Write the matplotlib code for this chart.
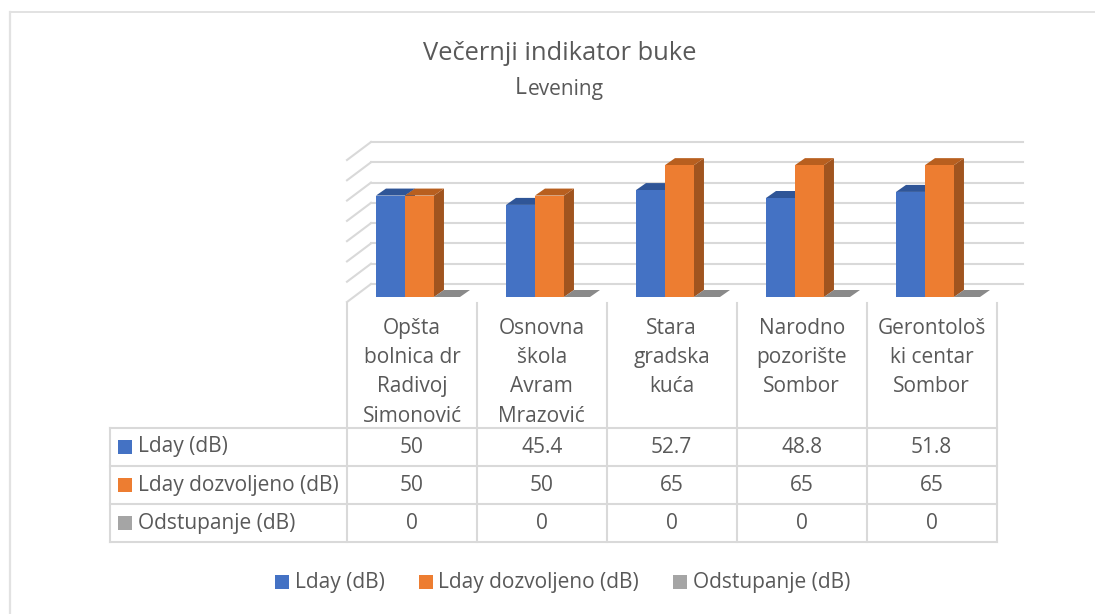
import matplotlib
matplotlib.use("Agg")
import matplotlib.pyplot as plt
from matplotlib.lines import Line2D
from matplotlib.patches import Polygon, Rectangle

plt.rcParams['font.family'] = ['Open Sans', 'DejaVu Sans']

W, H = 1095, 614
TEXTO = "#595959"
LINEA = "#D9D9D9"

categorias = ["Opšta\nbolnica dr\nRadivoj\nSimonović", "Osnovna\nškola\nAvram\nMrazović",
              "Stara\ngradska\nkuća", "Narodno\npozorište\nSombor", "Gerontološ\nki centar\nSombor"]
series = ["Lday (dB)", "Lday dozvoljeno (dB)", "Odstupanje (dB)"]
lday = [50, 45.4, 52.7, 48.8, 51.8]
dozvoljeno = [50, 50, 65, 65, 65]
odstupanje = [0, 0, 0, 0, 0]
etiquetas = [["50", "45.4", "52.7", "48.8", "51.8"],
             ["50", "50", "65", "65", "65"],
             ["0", "0", "0", "0", "0"]]
colores = ["#4472C4", "#ED7D31", "#A5A5A5"]
lados = ["#2F528F", "#A0541F", "#7F7F7F"]
oscuros = ["#2F5597", "#B85F1F", "#8A8A8A"]
gris_y = [0, 10, 20, 30, 40, 50, 60, 70]

fig = plt.figure(figsize=(W / 100, H / 100), dpi=100)

# pixeles de la imagen -> coordenadas de figura
def px(x, y):
    return x / W, 1 - y / H

def linea(x0, y0, x1, y1, color=LINEA, lw=1.5):
    a, b = px(x0, y0), px(x1, y1)
    fig.add_artist(Line2D([a[0], b[0]], [a[1], b[1]], color=color, lw=lw))

def texto(x, y, s, size=13, ha="center", va="center", **kw):
    a = px(x, y)
    return fig.text(a[0], a[1], s, fontsize=size, ha=ha, va=va, color=TEXTO, **kw)

# marco de la imagen
linea(9.5, 12, W, 12, color="#E2E2E2", lw=1.4)
linea(9.5, 12, 9.5, H, color="#E2E2E2", lw=1.6)

# ejes: x en categorías, y en dB, 0 a 70 sobre la pared frontal de las barras
X0, X1, Y0, Y1 = 347, 997, 297, 155
ax = fig.add_axes([X0 / W, 1 - Y0 / H, (X1 - X0) / W, (Y0 - Y1) / H])
ax.set_xlim(0, 5)
ax.set_ylim(0, 70)
ax.axis("off")

px_x = 5 / (X1 - X0)
px_y = 70 / (Y0 - Y1)
PROF_X, PROF_Y = 10 * px_x, 7 * px_y   # profundidad de las barras
ANCHO = 0.223
INICIO = 0.223

# paredes con rejilla
for g in gris_y:
    y_atras = g + 13 * px_y
    y_frente = g - 5 * px_y
    ax.plot([0, 24 * px_x], [y_frente, y_atras], color=LINEA, lw=1.5, clip_on=False, zorder=1)
    ax.plot([24 * px_x, 676 * px_x], [y_atras, y_atras], color=LINEA, lw=1.5, clip_on=False, zorder=1)

def barra(x, v, i, ancho=ANCHO):
    ax.add_patch(Polygon([(x + ancho, 0), (x + ancho + PROF_X, PROF_Y),
                          (x + ancho + PROF_X, v + PROF_Y), (x + ancho, v)],
                         fc=lados[i], ec="none", clip_on=False, zorder=3))
    ax.add_patch(Polygon([(x, v), (x + PROF_X, v + PROF_Y),
                          (x + ancho + PROF_X, v + PROF_Y), (x + ancho, v)],
                         fc=oscuros[i], ec="none", clip_on=False, zorder=3))
    ax.add_patch(Rectangle((x, 0), ancho, v, fc=colores[i], ec="none", clip_on=False, zorder=4))

for c in range(5):
    barra(c + INICIO, lday[c], 0)
    barra(c + INICIO + ANCHO, dozvoljeno[c], 1)
    barra(c + INICIO + 2 * ANCHO, odstupanje[c], 2, ancho=0.2)

# títulos
texto(560, 53, "Večernji indikator buke", size=18.4)
texto(515, 88, "L", size=16.5, ha="left")
texto(527.5, 89.5, "evening", size=15, ha="left")

# tabla de datos
filas = [427.5, 466, 504, 542]
columnas = [347, 477, 606.5, 737, 866.5, 996.5]
for y in filas:
    linea(110, y, 996.5, y)
linea(110, 427.5, 110, 542)
for x in columnas:
    linea(x, 303, x, 542)

for c, nombre in enumerate(categorias):
    cx = (columnas[c] + columnas[c + 1]) / 2
    for k, parte in enumerate(nombre.split("\n")):
        texto(cx, 328.5 + k * 29.2, parte, size=15)

for f, nombre in enumerate(series):
    yc = (filas[f] + filas[f + 1]) / 2
    fig.add_artist(Rectangle(px(118, yc + 7), 14 / W, 14 / H, fc=colores[f], ec="none",
                             transform=fig.transFigure))
    texto(138, yc, nombre, size=15, ha="left")
    for c in range(5):
        cx = (columnas[c] + columnas[c + 1]) / 2
        texto(cx, yc + 0.5, etiquetas[f][c], size=15)

# leyenda
for x_cuad, x_txt, nombre, col in zip([275, 419, 673], [295, 438.5, 693], series, colores):
    fig.add_artist(Rectangle(px(x_cuad, 589), 14 / W, 14 / H, fc=col, ec="none",
                             transform=fig.transFigure))
    texto(x_txt, 582.5, nombre, size=15, ha="left")

fig.savefig("out.png", dpi=100)
